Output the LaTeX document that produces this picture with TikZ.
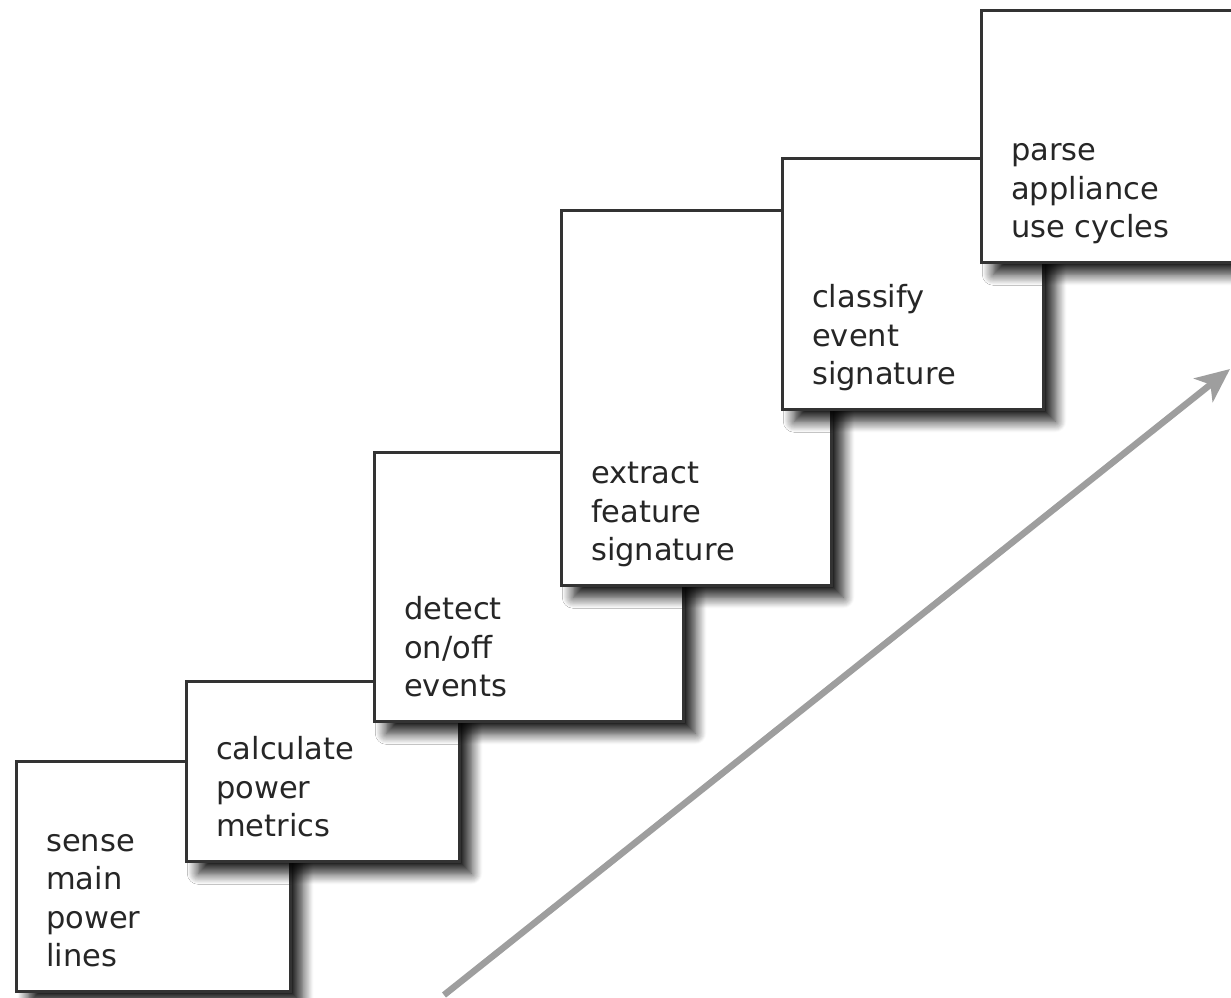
\documentclass[tikz,border=0pt]{standalone}
\usepackage{fontspec}
\setmainfont{DejaVu Sans}
\usetikzlibrary{shadows.blur,arrows.meta}

\begin{document}
\begin{tikzpicture}[x=1pt,y=-1pt,
	stage/.style={draw=black!80,line width=2.6pt,fill=white,anchor=north west,inner sep=0pt,
		blur shadow={shadow xshift=12pt,shadow yshift=-12pt,shadow blur radius=11pt,shadow blur steps=12,shadow opacity=90}},
	stagetext/.style={anchor=south west,align=left,inner sep=0pt,text=black!85,
		font=\fontsize{30.5}{38.5}\selectfont,xshift=31pt,yshift=14pt},
	trend/.style={draw=black!38,line width=6.5pt,-{Stealth[length=34pt,width=30pt,inset=9pt]}}]
	\useasboundingbox (0,0) rectangle (1231,998);
	
	\node[stage,minimum width=274pt,minimum height=230pt] (sense) at (15,760) {};
	\node[stagetext] at (sense.south west) {sense\\main\\power\\lines\strut};
	
	\node[stage,minimum width=273pt,minimum height=180pt] (calc) at (185,680) {};
	\node[stagetext] at (calc.south west) {calculate\\power\\metrics\strut};
	
	\node[stage,minimum width=309pt,minimum height=269pt] (detect) at (373,451) {};
	\node[stagetext] at (detect.south west) {detect\\on/off\\events\strut};
	
	\node[stage,minimum width=270pt,minimum height=375pt] (extract) at (560,209) {};
	\node[stagetext] at (extract.south west) {extract\\feature\\signature\strut};
	
	\node[stage,minimum width=261pt,minimum height=251pt] (classify) at (781,157) {};
	\node[stagetext] at (classify.south west) {classify\\event\\signature\strut};
	
	\node[stage,minimum width=280pt,minimum height=252pt] (parse) at (980,9) {};
	\node[stagetext] at (parse.south west) {parse\\appliance\\use cycles\strut};
	
	% overall direction
	\coordinate (low) at (444,995);
	\coordinate (high) at (1230,369);
	\draw[trend] (low) -- (high);
\end{tikzpicture}
\end{document}
